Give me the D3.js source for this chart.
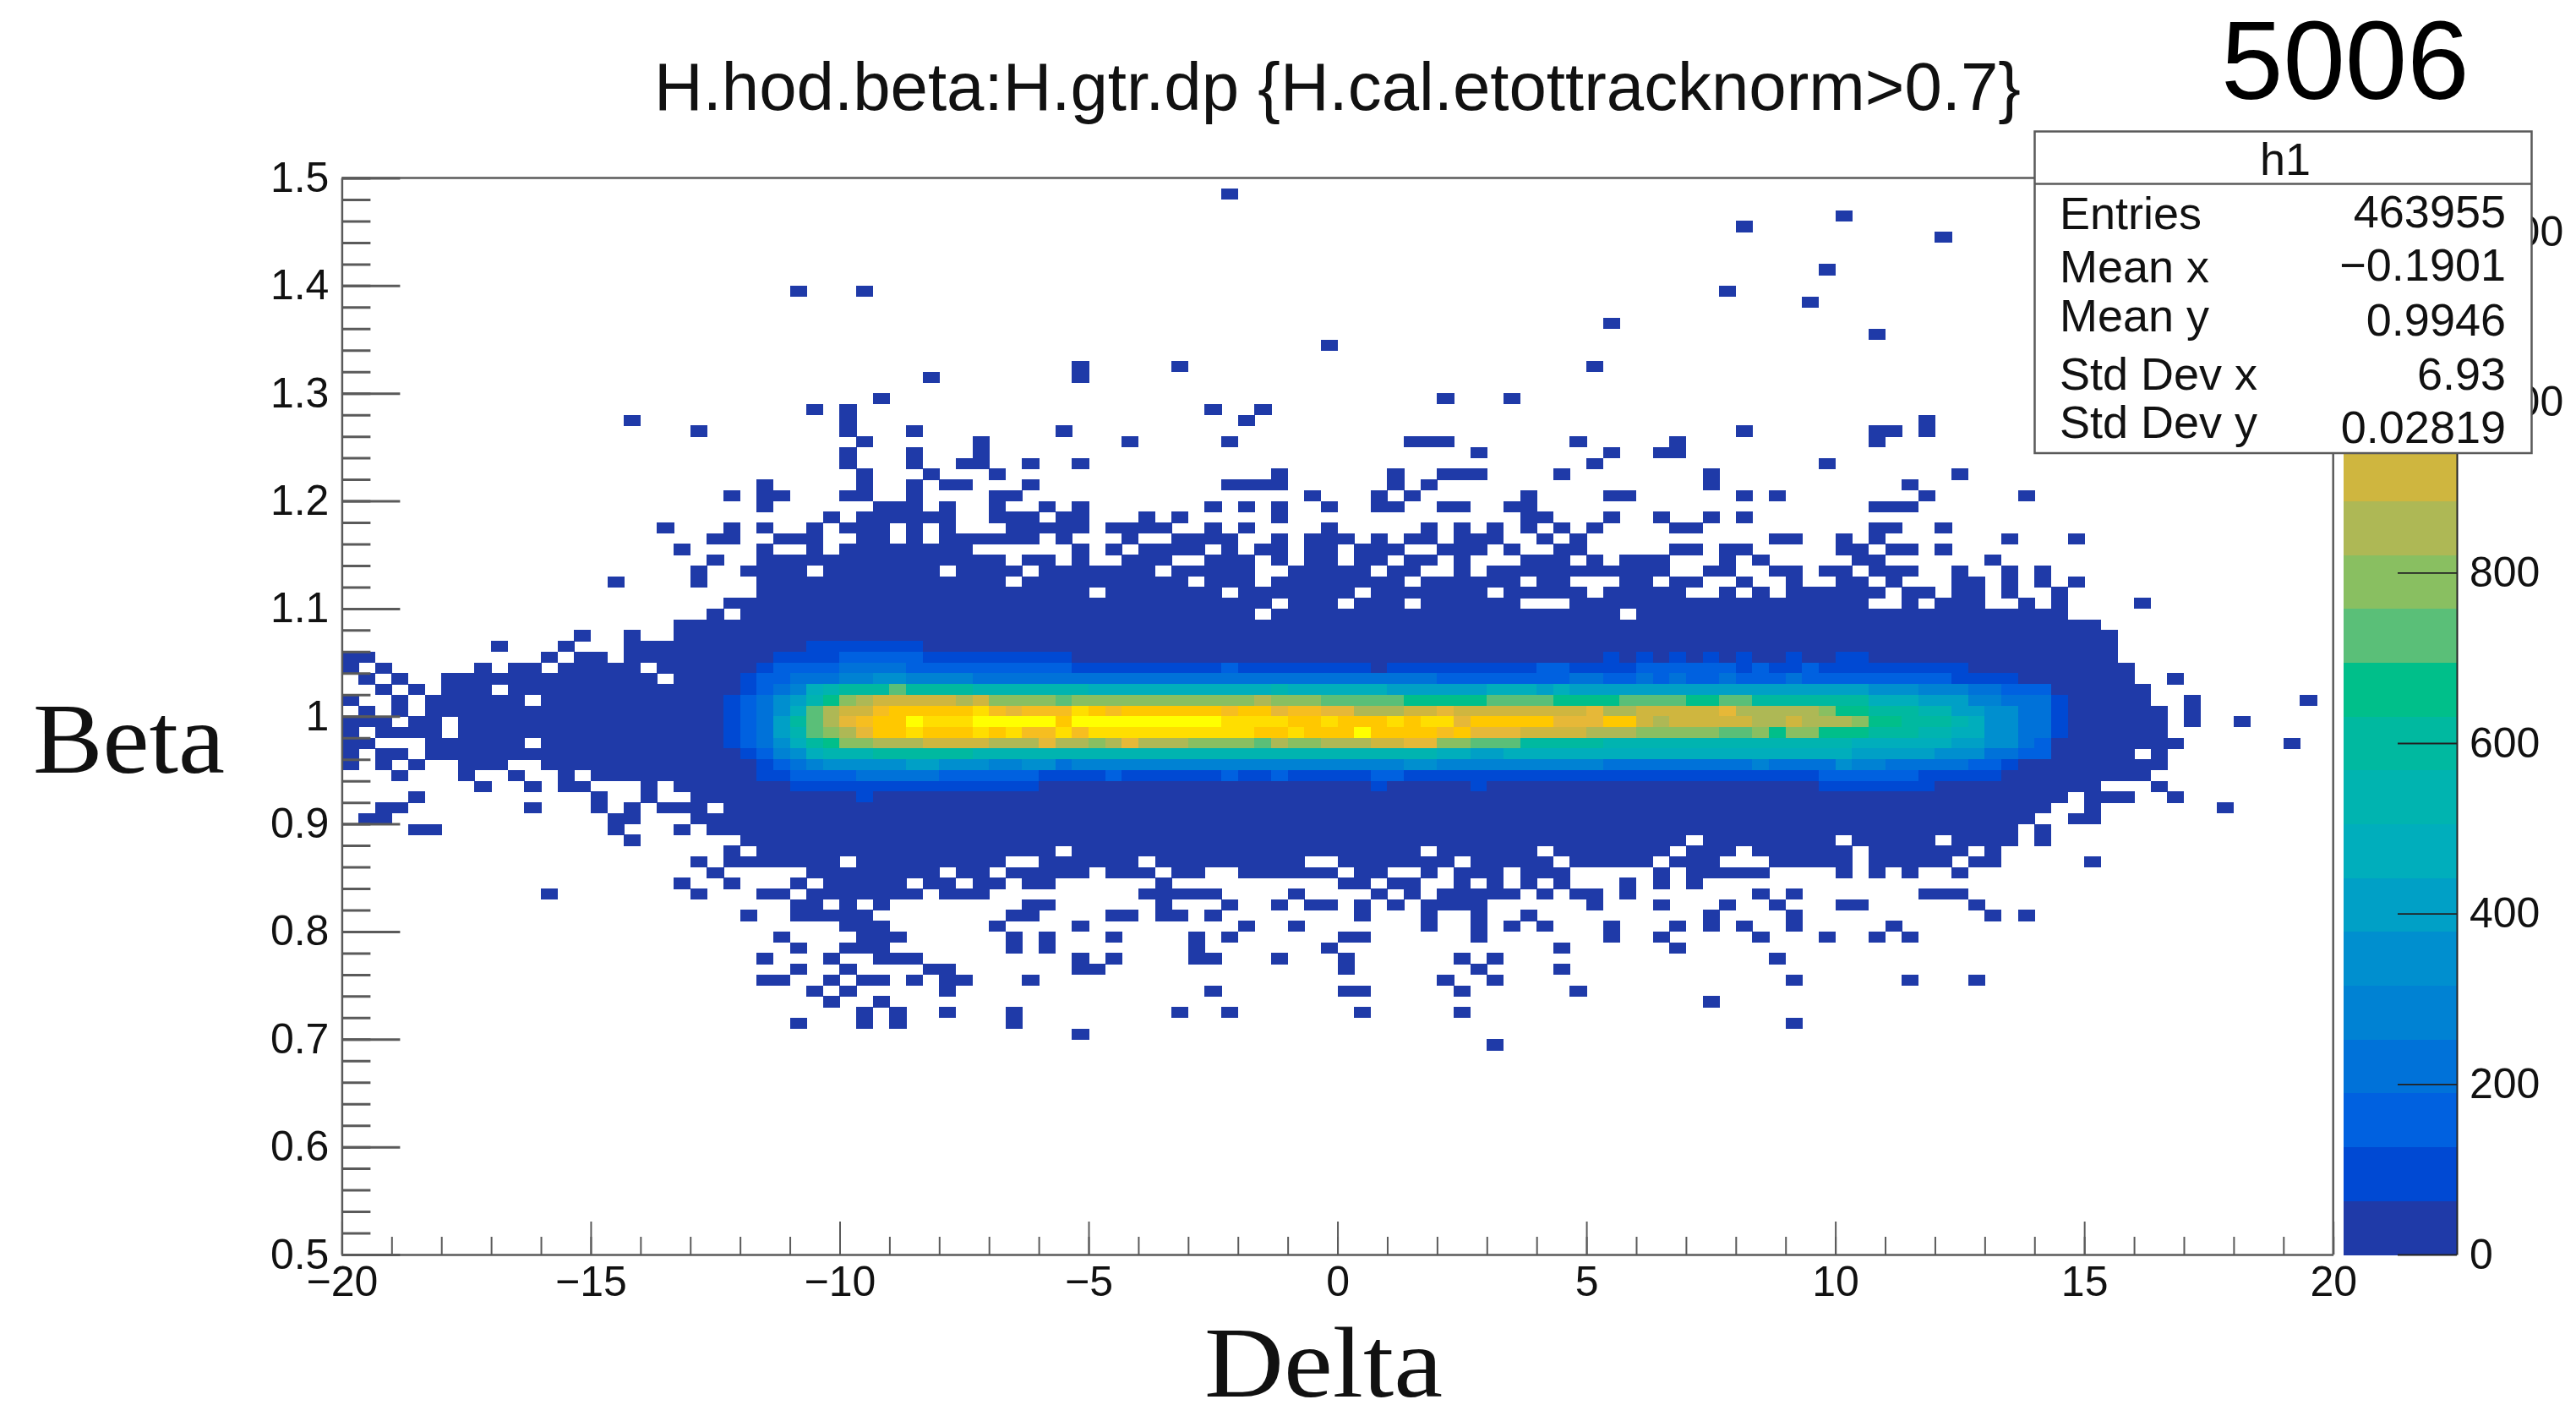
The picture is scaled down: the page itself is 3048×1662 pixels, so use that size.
<!DOCTYPE html>
<html>
<head>
<meta charset="utf-8">
<style>
html,body{margin:0;padding:0;background:#fff}
svg{display:block}
text{font-family:"Liberation Sans",Arial,sans-serif;fill:#111}
.serif{font-family:"Liberation Serif",serif}
</style>
<script src="https://cdnjs.cloudflare.com/ajax/libs/d3/7.8.5/d3.min.js"></script>
</head>
<body>
<script>
// ---- data ----
const titleText = "H.hod.beta:H.gtr.dp {H.cal.etottracknorm>0.7}";
const runLabel = "5006";
const xLabel = "Delta";
const yLabel = "Beta";
const deltaRange = [-20, 20];
const betaRange = [0.5, 1.5];
const nDeltaBins = 120;
const nBetaBins = 100;
const zMax = 1263;
const xMajorTicks = [-20,-15,-10,-5,0,5,10,15,20];
const xMinorTicks = d3.range(-20,20.5,1);
const yMajorTicks = [0.5,0.6,0.7,0.8,0.9,1,1.1,1.2,1.3,1.4,1.5];
const yMinorTicks = d3.range(0,51).map(i=>0.5+i*0.02);
const zTicks = [0,200,400,600,800,1000,1200];
const statsTitle = "h1";
const statsNames = ["Entries","Mean x","Mean y","Std Dev x","Std Dev y"];
const statsValues = ["463955","\u22120.1901","0.9946","6.93","0.02819"];
const palette = ["#1f3aa8","#0049d3","#0061e0","#0072d9","#0082d3","#008fcf","#00a0c6","#00aebc","#00b4b0","#00b9a0",
                 "#00bf8a","#5abf78","#89bf61","#aeb855","#cfb63f","#e6b838","#f6be20","#ffc800","#ffde00","#ffff00"];

// bins with any content, per beta row counted down from the top: "deltaBin" or "first-last"
const occupiedRows = [
[1,"53"],[3,"90"],[4,"84"],[5,"96"],[8,"89"],[10,"27,31,83"],[11,"88"],[13,"76"],[14,"92"],[15,"59"],
[17,"44,50,75"],[18,"35,44"],[20,"32,66,70"],[21,"28,30,52,55"],[22,"17,30,54,95"],
[23,"21,30,34,43,84,92,93,95"],[24,"31,38,47,53,64-66,74,80,92"],[25,"30,34,38,68,76,79,80"],
[26,"30,34,37,38,41,44,75,89"],[27,"31,35,39,56,63,66-68,73,82,97"],
[28,"25,31,34,36,37,41,53-56,63,65,82,94"],
[29,"23,25,26,30,31,34,39,40,58,62,64,71,76,77,84,86,95,101"],
[30,"25,32-34,36,39,42,44,52,54,56,59,62,63,66,67,70,71,92-94"],
[31,"29,31-36,39-41,43,44,48,50,56,71,72,76,79,82,84"],
[32,"19,23,25,28,30-32,34,36,40-44,46-49,52,54,59,65,67,69,71,73,75,80,81,92,93,96"],
[33,"22,23,26-28,31,32,34,36-41,43,47,50-53,56,58-60,62,64,65,67-69,72,74,86,87,90,92,100,104"],
[34,"20,25,28,30-37,44,46,48-51,53,55,56,58,59,61-63,66-68,70,73,74,80,81,83,84,90,91,93,94,96"],
[35,"22,25-39,41,42,44,47-49,52-54,56,58,59,61,62,64,65,67,71-73,75,77-79,83,85,91,92,99"],
[36,"21,24-27,29-35,37-40,42-48,50-54,57-61,63,64,67,69-79,82,83,86,87,89,90,92-94,97,100,102"],
[37,"16,21,25-39,41-50,52-54,56-63,65-70,72,73,77,78,80,81,84,87,90,91,93,97,98,100,102,104"],
[38,"25-44,46-52,54-60,62-68,70-74,76-80,83,85,87-92,94,95,97,98,100,103"],
[39,"23-55,57-59,61-63,65-70,74-91,94,96-98,101,103,108"],
[40,"22,24-54,56-76,78-103"],
[41,"20-105"],[42,"14,17,20-106"],[43,"9,13,17-106"],[44,"0,1,12,14,15,17-106"],
[45,"0,2,8,10,11,13-17,19-107"],[46,"1,3,6-18,20-107,110"],[47,"2,4,6-8,10-108"],
[48,"0,3,5-10,12-108,111,118"],[49,"1,3,5-109,111"],[50,"0-2,4,5,7-109,111,114"],[51,"0,2-5,7-109"],
[52,"0,1,5-10,12-110,117"],[53,"0,2,3,5-107,109"],[54,"0,2,4,7-9,12-109"],[55,"3,7,10,13,15-108"],
[56,"8,11,13,14,18,20-105,109"],[57,"4,15,18,21-103,105-107,110"],[58,"2,3,11,15,17,19-21,23-102,105,113"],
[59,"1,2,16,17,21-101,104,105"],[60,"4,5,16,20,22-100,102"],[61,"17,24-80,82-89,91-95,97-100,102"],
[62,"23,25-42,44-64,66-71,73-79,81-83,85-90,92-97,99"],
[63,"21,23-29,31-39,42-47,49-57,60-66,68-72,74-78,80-82,86-90,92-96,98,99,105"],
[64,"22,28-35,37,38,40-44,46-48,50,51,54-59,61,62,65,67-69,71-73,79,81-85,90,92,94,97"],
[65,"20,23,27,29-33,35,36,38,39,41,42,49,60,61,63,64,67,69,71,73,77,79,81"],
[66,"12,21,25,26,28-34,36-38,48-52,57,62,64,66-70,72,74,75,77,85,87,95-97"],
[67,"27,28,30,32,41,42,49,53,56,58,59,61,63,65-68,75,79,83,86,90,91,98"],
[68,"24,27-31,40,41,46,47,49,50,52,61,65,68,71,82,87,99,101"],
[69,"30-32,39,44,54,57,65,68,70,72,76,80,82,84,87,93"],
[70,"26,31-33,40,42,46,51,53,60,61,68,76,79,85,89,92,94"],
[71,"27,30-32,40,42,51,59,73,80"],
[72,"25,29,32-34,44,46,51,52,56,60,67,69,86"],
[73,"27,30,35,36,44,45,60,68,73"],
[74,"25,26,29,31,32,34,36,37,41,66,69,87,94,98"],
[75,"28,30,36,52,60,61,67,74"],[76,"29,32,82"],[77,"31,33,36,40,50,53,61,67"],[78,"27,31,33,40,87"],[79,"44"],[80,"69"]
];

// colour level of the busy bins: "first-last:level"
const bandRows = [
[43,"28-34:1"],
[44,"26-29:1 30-34:2 35-43:1 76:1 78:1 80:1 82:1 84:1 87:1 90-91:1"],
[45,"25:1 26-29:2 30-33:3 34-43:2 44-52:1 53:2 54-61:1 63-71:1 72-73:2 74-77:1 78-83:2 84:1 85:2 86-87:1 88:2 89-97:1"],
[46,"24:1 25-26:2 27-29:3 30-31:4 32-33:5 34-37:4 38-65:3 66-73:2 74-75:3 76-77:2 78:3 79:2 80:3 81-82:2 83:3 84-86:2 87:3 88-96:2 97-100:1"],
[47,"24:1 25:2 26:3 27:4 28:7 29:8 30-32:9 33:11 34-37:9 38-44:8 45-55:7 56:8 57-62:7 63-68:6 69-71:7 72:6 73:7 74-91:6 92-94:5 95-97:4 98-99:3 100-102:2"],
[48,"23:1 24:2 25:3 26:5 27:6 28:8 29:10 30:12 31:13 32-36:14 37:13 38:14 39-42:12 43:11 44-54:12 55:13 56-58:12 59-63:11 64-68:10 69-72:11 73-76:10 77-80:11 81-82:10 83-84:11 85-91:9 92-94:7 95-97:6 98-99:4 100-102:3 103:1"],
[49,"23:1 24:2 25:3 26:5 27:7 28:11 29:13 30-31:14 32:16 33-37:17 38:18 39:16 40:15 41-43:16 44:18 45:17 46:16 47-52:17 53:16 54-55:17 56:15 57-58:16 59-60:15 61-63:13 64-65:14 66:15 67-74:14 75:15 76-77:13 78-82:14 83:15 84-88:13 89:12 90-91:10 92-94:9 95-96:8 97-98:6 99-100:5 101-102:3 103:1"],
[50,"23:1 24:2 25:3 26:6 27:9 28:11 29:13 30:15 31:16 32-33:17 34:19 35-37:18 38-42:19 43:17 44-52:19 53-56:18 57-58:17 59:18 60-62:17 63:18 64:17 65-66:18 67:15 68-72:17 73-75:15 76-77:17 78:14 79:13 80-84:14 85-86:13 87:14 88-90:13 91:12 92-93:10 94-96:9 97:8 98:7 99-100:5 101-102:3 103:1"],
[51,"23:1 24:2 25:3 26:6 27:8 28:11 29:12 30:13 31:15 32-33:17 34:18 35-37:17 38:18 39:17 40:18 41-42:16 43:18 44:16 45-54:18 55-56:17 57:18 58-60:17 61:19 62-65:17 66:16 67:17 68-70:15 71-74:14 75-77:13 78-82:12 83-84:11 85:12 86:10 87-88:12 89-91:10 92-94:9 95-96:8 97-98:7 99-100:5 101-102:3 103:1"],
[52,"23:1 24:2 25:3 26:5 27:7 28:9 29:10 30-31:12 32-34:13 35-38:14 39-41:13 42:15 43-44:13 45:12 46:13 47:15 48-50:13 51-54:12 55:11 56:13 57-58:12 59-61:13 62-63:14 64-65:15 66-67:12 68-70:11 71-75:9 76-90:8 91-96:7 97-98:6 99-100:5 101:3 102:2"],
[53,"24:1 25:2 26:4 27:5 28:7 29-31:8 32-37:9 38-65:8 66-67:7 68-69:6 70-90:7 91-95:6 96-98:5 99-100:3 101-102:2"],
[54,"25:1 26:2 27:3 28:4 29-33:5 34-35:6 36-38:5 39-40:4 41-42:5 43:3 44-63:4 64-65:5 66-75:4 76-84:3 85:4 86-89:3 90:5 91-92:4 93-97:3 98-99:2 100:1"],
[55,"25-26:1 27-30:2 31-35:3 36-41:2 42-45:1 46:2 47-52:1 53:2 54-55:1 56:2 57-61:1 62-63:2 64-88:1 89-94:2 95-99:1"],
[56,"27-41:1 62:1 68:1 89-95:1"],
[57,"31:1"]
];

// ---- expand the tables ----
const binW = (deltaRange[1]-deltaRange[0])/nDeltaBins;
const binH = (betaRange[1]-betaRange[0])/nBetaBins;
const zStep = zMax/palette.length;
const key = (r,c)=>r*1000+c;
const cellsMap = new Map();
occupiedRows.forEach(([r,spec])=>{
  spec.split(",").forEach(p=>{
    const [a,b] = p.split("-").map(Number);
    for(let c=a;c<=(b===undefined?a:b);c++) cellsMap.set(key(r,c),{r,c,value:0.5*zStep});
  });
});
bandRows.forEach(([r,spec])=>{
  spec.split(" ").forEach(p=>{
    const [rng,lev] = p.split(":");
    const [a,b] = rng.split("-").map(Number);
    for(let c=a;c<=(b===undefined?a:b);c++) cellsMap.set(key(r,c),{r,c,value:(+lev+0.5)*zStep});
  });
});
const cells = Array.from(cellsMap.values());

// ---- scales ----
const x = d3.scaleLinear().domain(deltaRange).range([404.4,2760.7]);
const y = d3.scaleLinear().domain(betaRange).range([1484,210.5]);
const z = d3.scaleLinear().domain([0,zMax]).range([1484,210.5]);
const colour = d3.scaleQuantize().domain([0,zMax]).range(palette);
const axisColor = "#5a5a5a";

const svg = d3.select("body").append("svg").attr("width",3048).attr("height",1662);
svg.append("rect").attr("width",3048).attr("height",1662).attr("fill","#fff");

// heat map
svg.append("g").attr("shape-rendering","crispEdges").selectAll("rect").data(cells).join("rect")
  .attr("x",d=>x(deltaRange[0]+d.c*binW))
  .attr("width",d=>x(deltaRange[0]+(d.c+1)*binW)-x(deltaRange[0]+d.c*binW)+0.5)
  .attr("y",d=>y(betaRange[1]-d.r*binH))
  .attr("height",d=>y(betaRange[1]-(d.r+1)*binH)-y(betaRange[1]-d.r*binH)+0.5)
  .attr("fill",d=>colour(d.value));

// frame
const frame = svg.append("g").attr("fill","none").attr("stroke",axisColor).attr("stroke-width",2.5);
frame.append("line").attr("x1",x(-20)).attr("x2",x(20)).attr("y1",y(1.5)).attr("y2",y(1.5));
frame.append("line").attr("x1",x(20)).attr("x2",x(20)).attr("y1",y(1.5)).attr("y2",y(0.5));

function styleAxis(g,w){
  g.selectAll("path").attr("stroke",axisColor).attr("stroke-width",2.5);
  g.selectAll("line").attr("stroke",axisColor).attr("stroke-width",w);
  g.selectAll("text").attr("fill","#111").style("font-family",'"Liberation Sans",Arial,sans-serif').style("font-size","50px");
}
// y axis
svg.append("g").attr("transform",`translate(${x(-20)},0)`)
  .call(d3.axisLeft(y).tickValues(yMinorTicks).tickSize(-34).tickSizeOuter(0).tickFormat(""))
  .call(g=>{g.select(".domain").remove();g.selectAll("line").attr("stroke",axisColor).attr("stroke-width",3);});
svg.append("g").attr("transform",`translate(${x(-20)},0)`)
  .call(d3.axisLeft(y).tickValues(yMajorTicks).tickSize(-69).tickSizeOuter(0).tickPadding(15).tickFormat(d3.format("~g")))
  .call(g=>styleAxis(g,3));
// x axis
svg.append("g").attr("transform",`translate(0,${y(0.5)})`)
  .call(d3.axisBottom(x).tickValues(xMinorTicks).tickSize(-21).tickSizeOuter(0).tickFormat(""))
  .call(g=>{g.select(".domain").remove();g.selectAll("line").attr("stroke",axisColor).attr("stroke-width",2);});
svg.append("g").attr("transform",`translate(0,${y(0.5)})`)
  .call(d3.axisBottom(x).tickValues(xMajorTicks).tickSize(-39).tickSizeOuter(0).tickPadding(13).tickFormat(d3.format("d")))
  .call(g=>styleAxis(g,2));

// colour bar
const barX0 = 2773, barX1 = 2907;
svg.append("g").attr("shape-rendering","crispEdges").selectAll("rect").data(palette).join("rect")
  .attr("x",barX0).attr("width",barX1-barX0)
  .attr("y",(d,i)=>z((i+1)*zStep)).attr("height",(d,i)=>z(i*zStep)-z((i+1)*zStep)+0.5)
  .attr("fill",d=>d);
svg.append("g").attr("transform",`translate(${barX1},0)`)
  .call(d3.axisRight(z).tickValues(zTicks).tickSize(-70).tickSizeOuter(0).tickPadding(15).tickFormat(d3.format("d")))
  .call(g=>{styleAxis(g,1.8);g.selectAll("line").attr("stroke","#222");g.select(".domain").attr("stroke","#222").attr("stroke-width",2);});

// title and labels
svg.append("text").attr("x",774).attr("y",130).attr("font-size",79.5).attr("textLength",1617).attr("lengthAdjust","spacingAndGlyphs").text(titleText);
svg.append("text").attr("x",2628).attr("y",117).attr("font-size",132).attr("fill","#000").style("fill","#000").text(runLabel);
svg.append("text").attr("class","serif").attr("x",39).attr("y",914).attr("font-size",118).attr("textLength",227).attr("lengthAdjust","spacingAndGlyphs").text(yLabel);
svg.append("text").attr("class","serif").attr("x",1425).attr("y",1652).attr("font-size",118).attr("textLength",282).attr("lengthAdjust","spacingAndGlyphs").text(xLabel);

// stats box
const statsNameBaselines = [271,334,392,461,518];
const statsValueBaselines = [269,332,397,461,524];
const stats = svg.append("g");
stats.append("rect").attr("x",2407.5).attr("y",155.5).attr("width",588).attr("height",380.5).attr("fill","#fff").attr("stroke",axisColor).attr("stroke-width",2.5);
stats.append("line").attr("x1",2407.5).attr("x2",2995.5).attr("y1",217.5).attr("y2",217.5).attr("stroke",axisColor).attr("stroke-width",2.5);
stats.append("text").attr("x",2704).attr("y",207).attr("font-size",54).attr("text-anchor","middle").text(statsTitle);
statsNames.forEach((t,i)=>stats.append("text").attr("x",2437).attr("y",statsNameBaselines[i]).attr("font-size",54).text(t));
statsValues.forEach((t,i)=>stats.append("text").attr("x",2965).attr("y",statsValueBaselines[i]).attr("font-size",54).attr("text-anchor","end").text(t));
</script>
</body>
</html>
